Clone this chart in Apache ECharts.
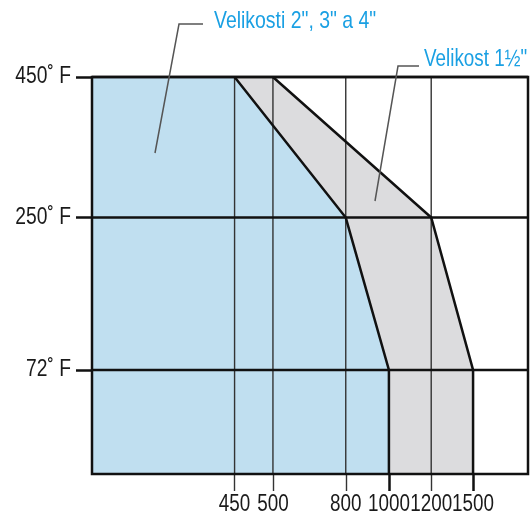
<!DOCTYPE html>
<html><head><meta charset="utf-8">
<script src="https://cdn.jsdelivr.net/npm/echarts@6/dist/echarts.min.js"></script>
<style>html,body{margin:0;padding:0;background:#fff}#c{width:532px;height:512px}</style>
</head><body><div id="c"></div>
<script>
// Pressure tick labels (psi) and temperature levels (°F)
const pressureTicks = [450, 500, 800, 1000, 1200, 1500];
const temperatureTicks = [72, 250, 450];
// Schematic (non-proportional) placement of each tick along its axis, in % of the plot
const pressureAxisPos = [32.7, 41.5, 58.2, 68.1, 77.8, 87.4];
const temperatureAxisPos = [26.2, 64.6, 100];
// Maximum pressure at each temperature level
const ratingTemps = [450, 250, 72];
const rating2to4 = [450, 800, 1000];    // Velikosti 2", 3" a 4"
const rating1half = [500, 1200, 1500];  // Velikost 1½"
const regionNames = ['Velikosti 2", 3" a 4"', 'Velikost 1½"'];

const FONT = '"Liberation Sans",Arial,sans-serif';
const NARROW = 0.82; // mimic a narrow typeface
const xOf = p => pressureAxisPos[pressureTicks.indexOf(p)];
const yOf = t => temperatureAxisPos[temperatureTicks.indexOf(t)];

const bottomRatings = [rating2to4[rating2to4.length - 1], rating1half[rating1half.length - 1]];
const thinPressures = pressureTicks.filter(p => bottomRatings.indexOf(p) < 0);

function renderItem(params, api) {
  const c = (u, v) => api.coord([u, v]);
  const regionPts = ratings => ratings.map((p, i) => c(xOf(p), yOf(ratingTemps[i])));
  const edge = ratings => regionPts(ratings).concat([c(xOf(ratings[ratings.length - 1]), 0)]);
  const area = ratings => [c(0, 0), c(0, 100)].concat(edge(ratings));
  const children = [];
  children.push({type: 'polygon', shape: {points: area(rating1half)}, style: {fill: '#dcdcde', stroke: null}});
  children.push({type: 'polygon', shape: {points: area(rating2to4)}, style: {fill: '#c0dff0', stroke: null}});
  thinPressures.forEach(p => {
    const a = c(xOf(p), 0), b = c(xOf(p), 100);
    children.push({type: 'line', shape: {x1: a[0], y1: a[1], x2: b[0], y2: b[1]}, style: {stroke: '#333', lineWidth: 1.4}});
  });
  temperatureTicks.forEach(t => {
    const a = c(0, yOf(t)), b = c(100, yOf(t));
    children.push({type: 'line', shape: {x1: a[0], y1: a[1], x2: b[0], y2: b[1]}, style: {stroke: '#111', lineWidth: 2.5}});
  });
  [rating2to4, rating1half].forEach(r => {
    children.push({type: 'polyline', shape: {points: edge(r)}, style: {stroke: '#111', lineWidth: 2.5, fill: null, lineJoin: 'miter'}});
  });
  const tl = c(0, 100), br = c(100, 0);
  children.push({type: 'rect', shape: {x: tl[0], y: tl[1], width: br[0] - tl[0], height: br[1] - tl[1]}, style: {stroke: '#111', lineWidth: 2.5, fill: null}});
  // tick labels (narrow text)
  pressureTicks.forEach(p => {
    const a = c(xOf(p), 0);
    children.push({type: 'text', x: a[0], y: a[1] + 31, scaleX: NARROW,
      style: {text: String(p), fontSize: 23, fontFamily: FONT, fill: '#1a1a1a', align: 'center', verticalAlign: 'middle'}});
  });
  temperatureTicks.forEach(t => {
    const a = c(0, yOf(t));
    children.push({type: 'text', x: a[0] - 21, y: a[1], scaleX: NARROW,
      style: {text: t + '\u02DA F', fontSize: 23.5, fontFamily: FONT, fill: '#1a1a1a', align: 'right', verticalAlign: 'middle'}});
  });
  return {type: 'group', children};
}

const chart = echarts.init(document.getElementById('c'), null, {renderer: 'canvas'});
chart.setOption({
  animation: false,
  grid: {left: 92, top: 77, right: 4, bottom: 38, containLabel: false},
  xAxis: [{
    type: 'value', min: 0, max: 100, position: 'bottom',
    axisLine: {show: false}, splitLine: {show: false},
    axisTick: {show: true, customValues: thinPressures.map(xOf), length: 17, lineStyle: {color: '#333', width: 1.4}},
    axisLabel: {show: false}
  }, {
    type: 'value', min: 0, max: 100, position: 'bottom',
    axisLine: {show: false}, splitLine: {show: false},
    axisTick: {show: true, customValues: bottomRatings.map(xOf), length: 17, lineStyle: {color: '#111', width: 2.5}},
    axisLabel: {show: false}
  }],
  yAxis: {
    type: 'value', min: 0, max: 100,
    axisLine: {show: false}, splitLine: {show: false},
    axisTick: {show: true, customValues: temperatureAxisPos, length: 16, lineStyle: {color: '#111', width: 2.5}},
    axisLabel: {show: false}
  },
  series: [{
    type: 'custom', renderItem, data: [[0, 0]], clip: false, silent: true
  }],
  graphic: [
    {type: 'polyline', shape: {points: [[203, 24], [179, 24], [155, 153]]}, style: {stroke: '#555', lineWidth: 1.5, fill: null}, z: 100},
    {type: 'polyline', shape: {points: [[419, 66], [398, 66], [375, 201]]}, style: {stroke: '#555', lineWidth: 1.5, fill: null}, z: 100},
    {type: 'text', x: 214, y: 21, scaleX: 0.81, style: {text: regionNames[0], fontSize: 24, fontFamily: FONT, fill: '#1aa0e3', align: 'left', verticalAlign: 'middle'}},
    {type: 'text', x: 424, y: 60, scaleX: 0.82, style: {text: regionNames[1], fontSize: 23, fontFamily: FONT, fill: '#1aa0e3', align: 'left', verticalAlign: 'middle'}}
  ]
});
</script></body></html>
